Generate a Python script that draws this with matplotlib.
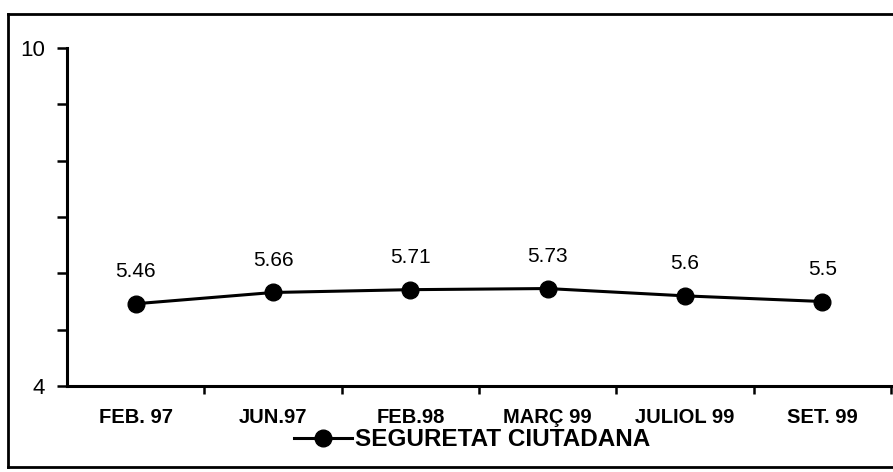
import matplotlib.pyplot as plt
from matplotlib.lines import Line2D
from matplotlib.ticker import FixedLocator

plt.rcParams['font.family'] = ['Liberation Sans', 'DejaVu Sans']

# dades
periodes = ["FEB. 97", "JUN.97", "FEB.98", "MARÇ 99", "JULIOL 99", "SET. 99"]
valors = [5.46, 5.66, 5.71, 5.73, 5.6, 5.5]
etiquetes = ["5.46", "5.66", "5.71", "5.73", "5.6", "5.5"]
serie = "SEGURETAT CIUTADANA"

W, H = 893, 472
fig = plt.figure(figsize=(W / 100, H / 100), dpi=100)
ax = fig.add_axes([67 / W, 1 - 386 / H, (891 - 67) / W, (386 - 48) / H])

x = list(range(len(periodes)))
ax.plot(x, valors, color='black', lw=2.2, marker='o', markersize=12,
        label=serie, clip_on=False)
for xi, v, t in zip(x, valors, etiquetes):
    ax.annotate(t, (xi, v), xytext=(0, 23), textcoords='offset points',
                ha='center', va='center', fontsize=15)

ax.set_xlim(-0.5, len(periodes) - 0.5)
ax.set_ylim(4, 10)

# eix X: etiquetes al centre, marques entre categories
ax.set_xticks(x)
ax.set_xticklabels(periodes, fontsize=14.5, fontweight='bold')
ax.tick_params(axis='x', which='major', length=0, pad=16)
ax.xaxis.set_minor_locator(FixedLocator([i + 0.5 for i in x]))
ax.tick_params(axis='x', which='minor', length=6, width=1.8, direction='out')

# eix Y: només 4 i 10 amb etiqueta
ax.set_yticks([4, 10])
ax.set_yticklabels(["4", "10"], fontsize=16)
ax.yaxis.set_minor_locator(FixedLocator([5, 6, 7, 8, 9]))
ax.tick_params(axis='y', which='both', length=7, width=1.8, direction='out', pad=9)

for s in ['top', 'right']:
    ax.spines[s].set_visible(False)
for s in ['left', 'bottom']:
    ax.spines[s].set_linewidth(2.2)

fig.legend(loc='center', bbox_to_anchor=(472 / W, 1 - 440 / H), frameon=False,
           handlelength=2.4, handletextpad=0.1,
           prop={'size': 17.5, 'weight': 'bold'})

# marc de la figura
fig.add_artist(Line2D([8 / W, 8 / W], [1 - 467 / H, 1 - 14 / H], color='black', lw=2))
fig.add_artist(Line2D([8 / W, 1], [1 - 14 / H, 1 - 14 / H], color='black', lw=2))
fig.add_artist(Line2D([8 / W, 1], [1 - 467 / H, 1 - 467 / H], color='black', lw=2))

fig.savefig("out.png", dpi=100)
